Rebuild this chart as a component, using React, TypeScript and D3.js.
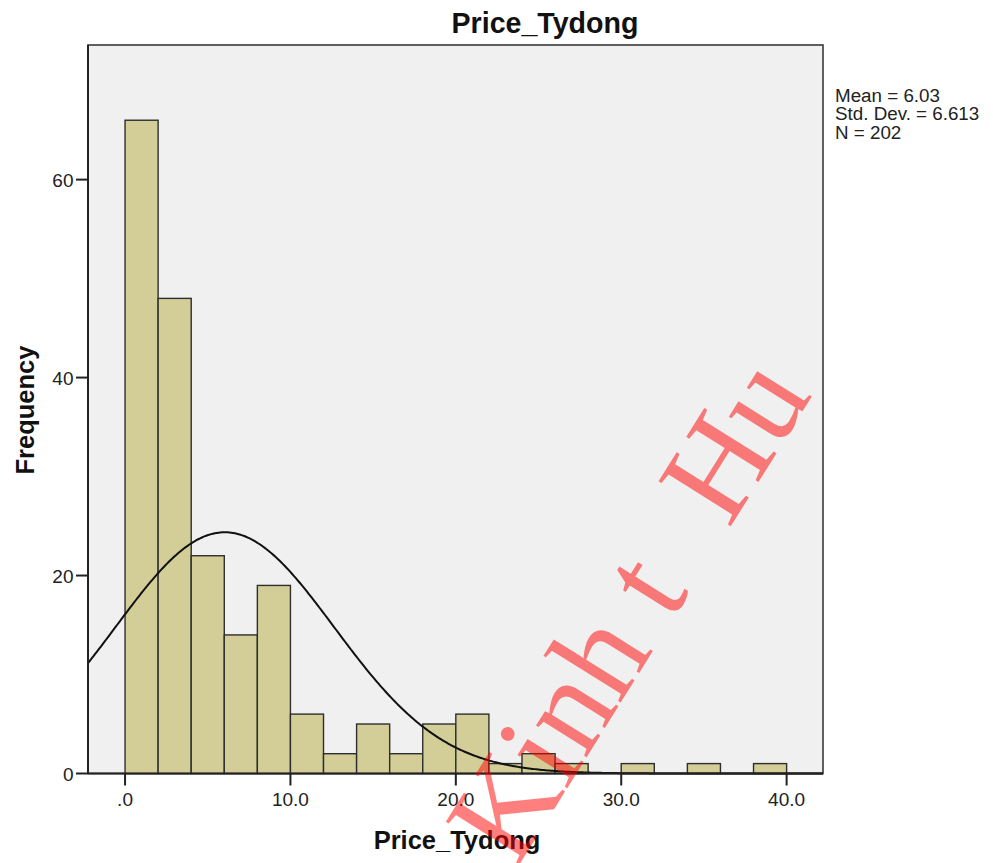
import React from "react";
import * as d3 from "d3";

const binStarts = [0, 2, 4, 6, 8, 10, 12, 14, 16, 18, 20, 22, 24, 26, 28, 30, 32, 34, 36, 38];
const binWidth = 2;
const counts = [66, 48, 22, 14, 19, 6, 2, 5, 2, 5, 6, 1, 2, 1, 0, 1, 0, 1, 0, 1];
const xTicks = [0, 10, 20, 30, 40];
const xTickLabels = [".0", "10.0", "20.0", "30.0", "40.0"];
const yTicks = [0, 20, 40, 60];
const stats = { mean: 6.03, sd: 6.613, n: 202 };
const statLines = ["Mean = 6.03", "Std. Dev. = 6.613", "N = 202"];
const title = "Price_Tydong";
const xLabel = "Price_Tydong";
const yLabel = "Frequency";
const watermarkParts = ["Kinh t", "Hu"];

const W = 993;
const H = 863;
const left = 88, right = 823, top = 45, bottom = 773.5;
const FONT = "'Liberation Sans', Arial, Helvetica, sans-serif";
const SERIF = "'Liberation Serif', 'Times New Roman', serif";

export default function App() {
  const x = d3.scaleLinear().domain([-2.24, 42.2]).range([left, right]);
  const y = d3.scaleLinear().domain([0, 73.6]).range([bottom, top]);

  const normal = (v: number) =>
    (stats.n * binWidth) / (stats.sd * Math.sqrt(2 * Math.PI)) *
    Math.exp(-0.5 * ((v - stats.mean) / stats.sd) ** 2);
  const xs = d3.range(0, 401).map((i) => -2.24 + (i / 400) * (42.2 + 2.24));
  const line = d3.line<number>().x((v) => x(v)).y((v) => y(normal(v)));

  const wmSize = 130;

  return (
    <svg width={W} height={H} style={{ position: "absolute", left: 0, top: 0, background: "#fff" }}>
      <rect x={0} y={0} width={W} height={H} fill="#fff" />
      <rect x={left} y={top} width={right - left} height={bottom - top} fill="#F0F0F0" stroke="#3a3a3a" strokeWidth={1.6} />
      {binStarts.map((b, i) =>
        counts[i] > 0 ? (
          <rect
            key={i}
            x={x(b)}
            y={y(counts[i])}
            width={x(b + binWidth) - x(b)}
            height={bottom - y(counts[i])}
            fill="#D3CE98"
            stroke="#2e2e2e"
            strokeWidth={1.4}
          />
        ) : null
      )}
      <path d={line(xs) || ""} fill="none" stroke="#111" strokeWidth={2} />
      <line x1={left} x2={right} y1={bottom} y2={bottom} stroke="#222" strokeWidth={2} />
      <line x1={left} x2={left} y1={top} y2={bottom} stroke="#222" strokeWidth={2} />
      {xTicks.map((t, i) => (
        <g key={t}>
          <line x1={x(t)} x2={x(t)} y1={bottom} y2={bottom + 12} stroke="#222" strokeWidth={2} />
          <text x={x(t)} y={806} textAnchor="middle" fontFamily={FONT} fontSize={19} fill="#222">
            {xTickLabels[i]}
          </text>
        </g>
      ))}
      {yTicks.map((t) => (
        <g key={t}>
          <line x1={left - 12} x2={left} y1={y(t)} y2={y(t)} stroke="#222" strokeWidth={2} />
          <text x={73.5} y={y(t) + 7} textAnchor="end" fontFamily={FONT} fontSize={19} fill="#222">
            {t}
          </text>
        </g>
      ))}
      <text x={545} y={33} textAnchor="middle" fontFamily={FONT} fontWeight="bold" fontSize={28.6} fill="#111">
        {title}
      </text>
      <text x={457} y={849} textAnchor="middle" fontFamily={FONT} fontWeight="bold" fontSize={25.5} fill="#111">
        {xLabel}
      </text>
      <text
        transform={`translate(34,410) rotate(-90)`}
        textAnchor="middle"
        fontFamily={FONT}
        fontWeight="bold"
        fontSize={25.5}
        fill="#111"
      >
        {yLabel}
      </text>
      {statLines.map((s, i) => (
        <text key={i} x={835} y={101.5 + i * 18.6} fontFamily={FONT} fontSize={18.8} fill="#222">
          {s}
        </text>
      ))}
      <g transform={`translate(516,870) rotate(-58)`} fontFamily={SERIF} fontSize={wmSize} fill="rgb(255,0,0)" fillOpacity={0.5}>
        <text x={0} y={0}>{watermarkParts[0]}</text>
        <text x={wmSize * 3.028 + 8} y={0}>{watermarkParts[1]}</text>
      </g>
    </svg>
  );
}
